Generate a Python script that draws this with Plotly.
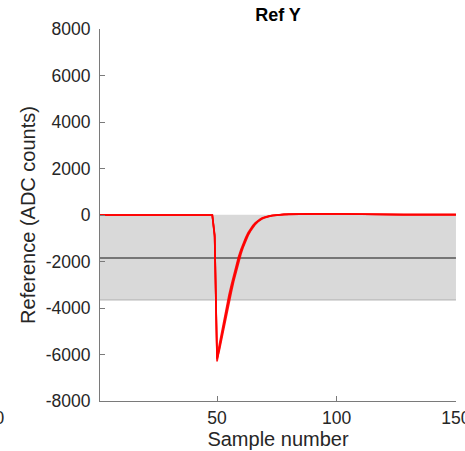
import plotly.graph_objects as go

# ---- data ----
samples = list(range(1, 151))

band_upper = 0
band_lower = -3650
band_mean = -1850

# pulse region (samples 48..80), three overlapping traces
pulse_samples = list(range(48, 81))
pulse_a = [0, -900, -6300, -5700, -5150, -4600, -4100, -3600, -3150, -2700, -2300, -1900,
           -1580, -1290, -1040, -820, -640, -490, -370, -270, -200, -140, -100, -70,
           -45, -25, -10, 0, 10, 20, 25, 30, 35]
pulse_b = [0, -850, -6150, -5550, -4980, -4430, -3930, -3440, -3000, -2570, -2180, -1800,
           -1490, -1210, -970, -760, -590, -450, -340, -250, -180, -125, -90, -60,
           -38, -20, -5, 5, 12, 20, 25, 30, 35]
pulse_c = [0, -950, -6200, -5800, -5280, -4750, -4250, -3760, -3300, -2840, -2420, -2010,
           -1680, -1370, -1110, -880, -690, -530, -400, -295, -215, -155, -110, -75,
           -50, -28, -12, 0, 8, 18, 24, 30, 35]
baseline_pre = [0] * 47              # samples 1..47
baseline_post = [38, 40, 42, 44, 45, 46, 48, 50, 50, 52, 52, 54, 55, 55, 55, 54, 53, 52, 50,
                 48, 46, 44, 42, 40, 38, 36, 34, 32, 30, 28, 27, 26, 25, 24, 24, 23, 23, 22,
                 22, 22, 21, 21, 20, 20, 20, 20, 20, 20, 20, 20, 20, 20, 20, 20, 20, 20, 20,
                 20, 20, 20, 20, 20, 20, 20, 20, 20, 20, 20, 20, 20]  # samples 81..150

x_ticks = [50, 100, 150]
y_ticks = [-8000, -6000, -4000, -2000, 0, 2000, 4000, 6000, 8000]

fig = go.Figure()

# grey band
fig.add_trace(go.Scatter(x=[samples[0], samples[-1]], y=[band_upper, band_upper],
                         mode="lines", line=dict(color="#d9d9d9", width=0.5),
                         showlegend=False, hoverinfo="skip"))
fig.add_trace(go.Scatter(x=[samples[0], samples[-1]], y=[band_lower, band_lower],
                         mode="lines", line=dict(color="#b8b8b8", width=1.2),
                         fill="tonexty", fillcolor="#d9d9d9",
                         showlegend=False, hoverinfo="skip"))
fig.add_trace(go.Scatter(x=[samples[0], samples[-1]], y=[band_mean, band_mean],
                         mode="lines", line=dict(color="#555555", width=1.5),
                         showlegend=False, hoverinfo="skip"))

for p in (pulse_a, pulse_b, pulse_c):
    ys = baseline_pre + p + baseline_post
    fig.add_trace(go.Scatter(x=samples, y=ys, mode="lines",
                             line=dict(color="#ff0000", width=1.7),
                             opacity=0.9, showlegend=False))

axis_color = "#7a7a7a"
font_color = "#262626"

fig.update_layout(
    width=465, height=451,
    margin=dict(l=100, r=9, t=29, b=50),
    paper_bgcolor="white", plot_bgcolor="white",
    font=dict(family="Liberation Sans, Arial, sans-serif", size=17, color=font_color),
    title=dict(text="<b>Ref Y</b>", x=0.5, xref="paper", xanchor="center",
               y=1 - 15 / 451, yanchor="middle", font=dict(size=18, color="#000000")),
    xaxis=dict(range=[1, 150.02], tickvals=x_ticks, ticktext=[str(v) for v in x_ticks],
               ticks="inside", ticklen=5, tickcolor=axis_color, showline=True,
               linecolor=axis_color, linewidth=1, showgrid=False, zeroline=False,
               ticklabeloverflow="allow", ticklabelstandoff=1, automargin=False,
               title=dict(text="Sample number", standoff=2, font=dict(size=20)),
               tickfont=dict(size=17.5, color=font_color)),
    yaxis=dict(range=[-8000, 8000], tickvals=y_ticks, ticktext=[str(v) for v in y_ticks],
               ticks="inside", ticklen=5, tickcolor=axis_color, showline=True,
               linecolor=axis_color, linewidth=1, showgrid=False, zeroline=False,
               ticklabelstandoff=5, automargin=False,
               title=dict(text="Reference (ADC counts)", standoff=4, font=dict(size=20)),
               tickfont=dict(size=17.5, color=font_color)),
    annotations=[dict(text="150", xref="paper", yref="paper", x=-0.264, y=-0.045,
                      xanchor="right", yanchor="middle", showarrow=False,
                      font=dict(size=17.5, color=font_color))],
)

fig.write_html("out.html")
